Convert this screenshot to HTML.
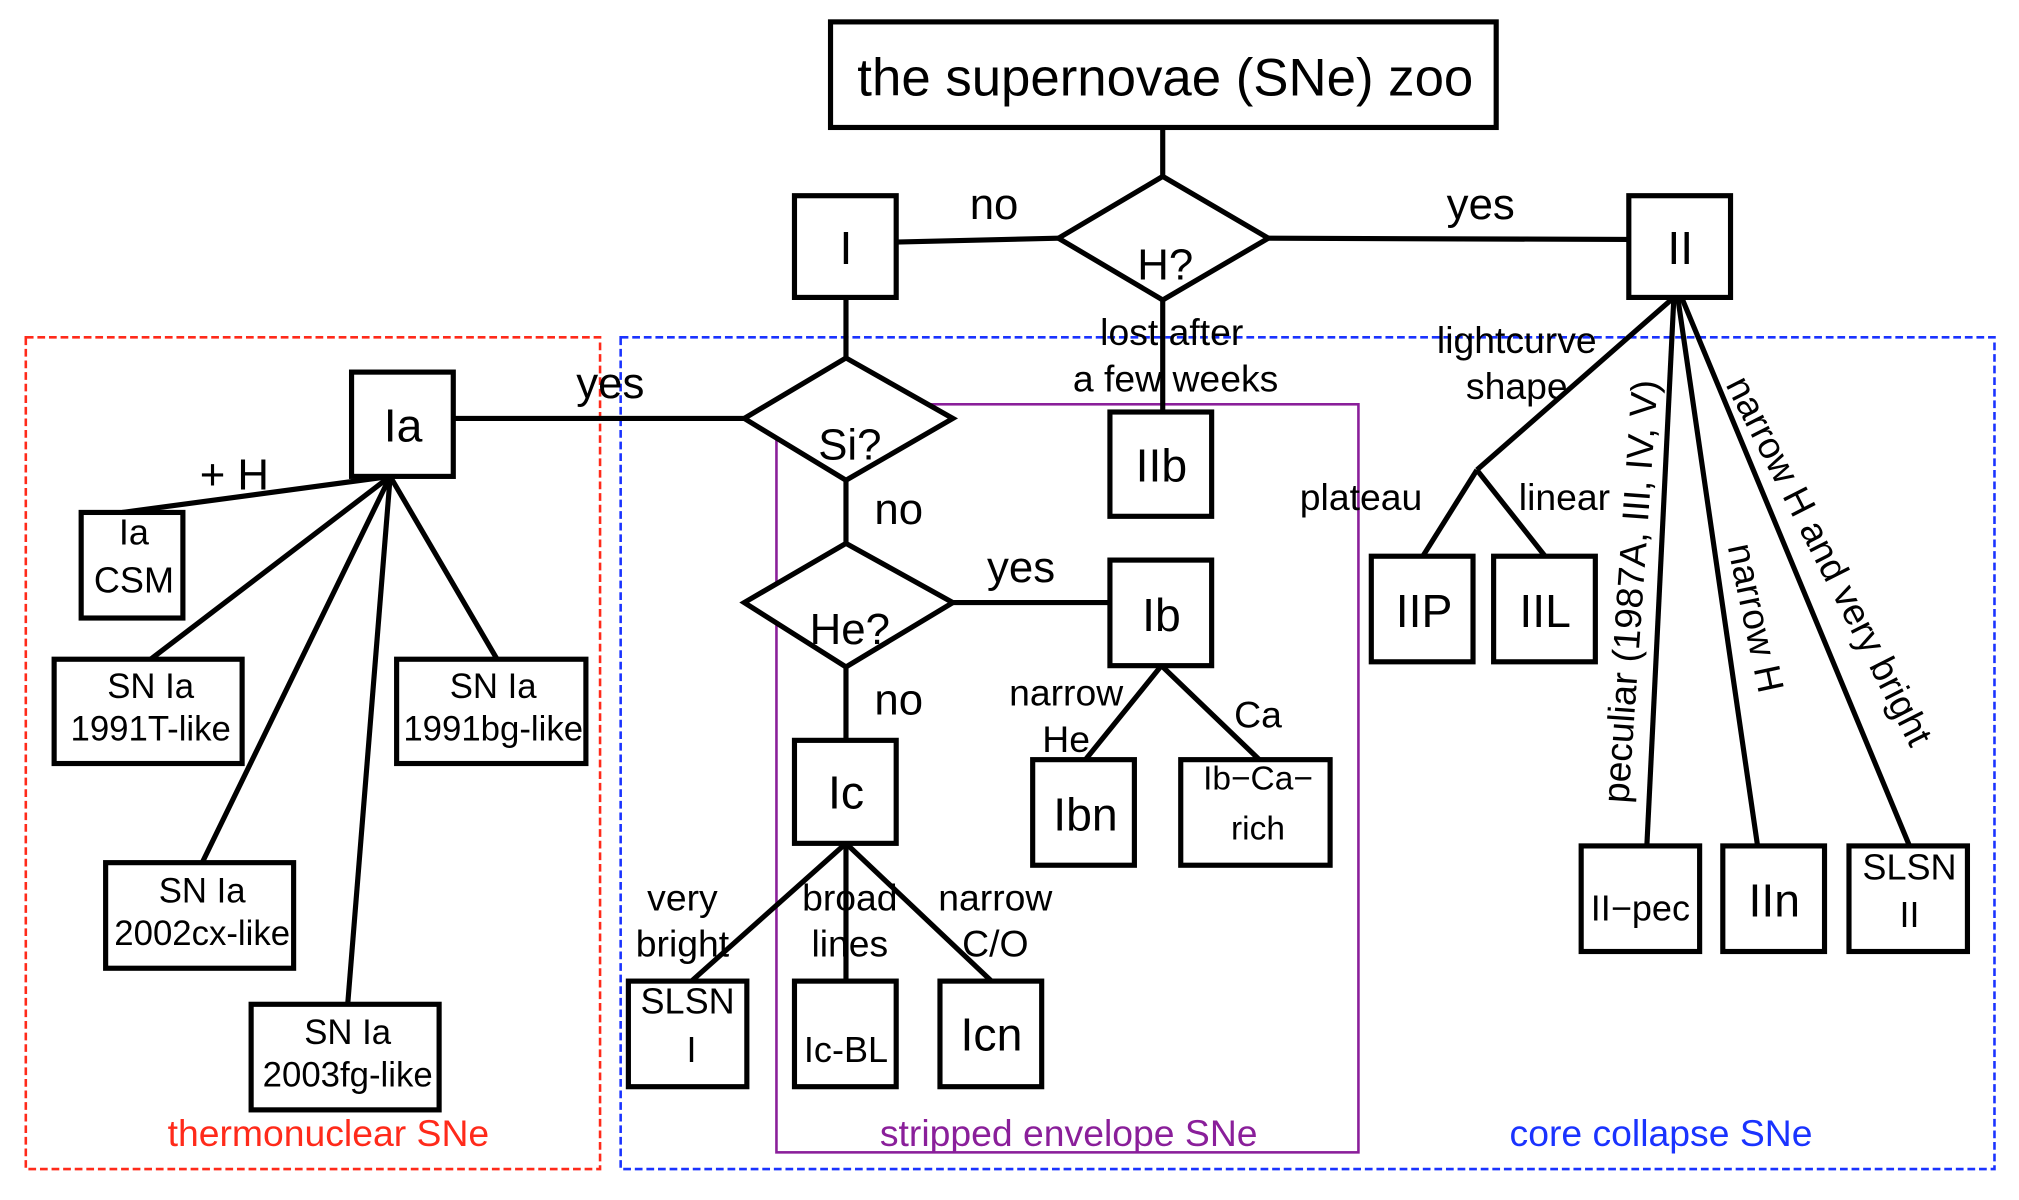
<!DOCTYPE html>
<html><head><meta charset="utf-8"><style>html,body{margin:0;padding:0;background:#fff}svg{display:block}</style></head>
<body>
<svg xmlns="http://www.w3.org/2000/svg" width="2019" height="1200" viewBox="0 0 1568 932" font-family="Liberation Sans, sans-serif">
<rect width="1568" height="932" fill="#fff"/>
<rect x="20" y="262" width="446" height="646" fill="none" stroke="#ff2a1a" stroke-width="2" stroke-dasharray="6,3"/>
<rect x="482" y="262" width="1067" height="646" fill="none" stroke="#1a33ff" stroke-width="2" stroke-dasharray="6,3"/>
<rect x="603" y="314" width="452" height="581" fill="none" stroke="#8a1f9a" stroke-width="2"/>
<g stroke="#000" stroke-width="4" fill="none">
<line x1="903" y1="99" x2="903" y2="137"/>
<line x1="696" y1="188" x2="822" y2="185"/>
<line x1="985" y1="185" x2="1265" y2="186"/>
<line x1="903" y1="233" x2="903" y2="320"/>
<line x1="657" y1="231" x2="657" y2="278"/>
<line x1="352" y1="325" x2="578" y2="325"/>
<line x1="657" y1="373" x2="657" y2="422"/>
<line x1="740" y1="468" x2="862" y2="468"/>
<line x1="657" y1="518" x2="657" y2="575"/>
<line x1="657" y1="655" x2="537" y2="762"/>
<line x1="657" y1="655" x2="657" y2="762"/>
<line x1="657" y1="655" x2="770" y2="762"/>
<line x1="902" y1="517" x2="843" y2="590"/>
<line x1="902" y1="517" x2="978" y2="590"/>
<line x1="1300" y1="231" x2="1147" y2="365"/>
<line x1="1147" y1="365" x2="1105" y2="432"/>
<line x1="1147" y1="365" x2="1200" y2="432"/>
<line x1="1300" y1="231" x2="1279" y2="657"/>
<line x1="1303" y1="231" x2="1365" y2="657"/>
<line x1="1306" y1="231" x2="1483" y2="657"/>
<line x1="303" y1="370" x2="95" y2="398"/>
<line x1="303" y1="370" x2="117" y2="512"/>
<line x1="303" y1="370" x2="386" y2="512"/>
<line x1="303" y1="370" x2="157" y2="670"/>
<line x1="303" y1="370" x2="270" y2="780"/>
<rect x="645" y="17" width="517" height="82" fill="#fff"/>
<polygon points="903,137 985,185 903,233 822,185" fill="#fff"/>
<polygon points="657,278 740,325 657,373 578,325" fill="#fff"/>
<polygon points="657,422 740,468 657,518 578,468" fill="#fff"/>
<rect x="617" y="152" width="79" height="79" fill="#fff"/>
<rect x="1265" y="152" width="79" height="79" fill="#fff"/>
<rect x="862" y="320" width="79" height="81" fill="#fff"/>
<rect x="273" y="289" width="79" height="81" fill="#fff"/>
<rect x="862" y="435" width="79" height="82" fill="#fff"/>
<rect x="617" y="575" width="79" height="80" fill="#fff"/>
<rect x="488" y="762" width="92" height="82" fill="#fff"/>
<rect x="617" y="762" width="79" height="82" fill="#fff"/>
<rect x="730" y="762" width="79" height="82" fill="#fff"/>
<rect x="802" y="590" width="79" height="82" fill="#fff"/>
<rect x="917" y="590" width="116" height="82" fill="#fff"/>
<rect x="1065" y="432" width="79" height="82" fill="#fff"/>
<rect x="1160" y="432" width="79" height="82" fill="#fff"/>
<rect x="1228" y="657" width="92" height="82" fill="#fff"/>
<rect x="1338" y="657" width="79" height="82" fill="#fff"/>
<rect x="1436" y="657" width="92" height="82" fill="#fff"/>
<rect x="63" y="398" width="79" height="82" fill="#fff"/>
<rect x="42" y="512" width="146" height="81" fill="#fff"/>
<rect x="308" y="512" width="147" height="81" fill="#fff"/>
<rect x="82" y="670" width="146" height="82" fill="#fff"/>
<rect x="195" y="780" width="146" height="82" fill="#fff"/>
</g>
<g text-anchor="middle" fill="#000">
<text x="905" y="74" font-size="41">the supernovae (SNe) zoo</text>
<text x="905" y="217" font-size="34">H?</text>
<text x="660" y="357" font-size="34">Si?</text>
<text x="660" y="500" font-size="34">He?</text>
<text x="657" y="205" font-size="36">I</text>
<text x="1305" y="205" font-size="36">II</text>
<text x="902" y="374" font-size="36">IIb</text>
<text x="313" y="343" font-size="36">Ia</text>
<text x="902" y="490" font-size="36">Ib</text>
<text x="657" y="628" font-size="36">Ic</text>
<text x="534" y="787" font-size="28">SLSN</text><text x="537" y="825" font-size="28">I</text>
<text x="657" y="825" font-size="28">Ic-BL</text>
<text x="770" y="816" font-size="36">Icn</text>
<text x="843" y="645" font-size="36">Ibn</text>
<text x="977" y="613" font-size="26">Ib−Ca−</text><text x="977" y="652" font-size="26">rich</text>
<text x="1106" y="487" font-size="36">IIP</text>
<text x="1200" y="487" font-size="36">IIL</text>
<text x="1274" y="715" font-size="28">II−pec</text>
<text x="1378" y="712" font-size="36">IIn</text>
<text x="1483" y="683" font-size="28">SLSN</text><text x="1483" y="720" font-size="28">II</text>
<text x="104" y="423" font-size="28">Ia</text><text x="104" y="460" font-size="28">CSM</text>
<text x="117" y="542" font-size="27">SN Ia</text><text x="117" y="575" font-size="27">1991T-like</text>
<text x="383" y="542" font-size="27">SN Ia</text><text x="383" y="575" font-size="27">1991bg-like</text>
<text x="157" y="701" font-size="27">SN Ia</text><text x="157" y="734" font-size="27">2002cx-like</text>
<text x="270" y="811" font-size="27">SN Ia</text><text x="270" y="844" font-size="27">2003fg-like</text>
<text x="772" y="170" font-size="34">no</text>
<text x="1150" y="170" font-size="34">yes</text>
<text x="474" y="309" font-size="34">yes</text>
<text x="698" y="407" font-size="34">no</text>
<text x="793" y="452" font-size="34">yes</text>
<text x="698" y="555" font-size="34">no</text>
<text x="910" y="268" font-size="29">lost after</text>
<text x="913" y="304" font-size="29">a few weeks</text>
<text x="530" y="707" font-size="29">very</text><text x="530" y="743" font-size="29">bright</text>
<text x="660" y="707" font-size="29">broad</text><text x="660" y="743" font-size="29">lines</text>
<text x="773" y="707" font-size="29">narrow</text><text x="773" y="743" font-size="29">C/O</text>
<text x="828" y="548" font-size="29">narrow</text><text x="828" y="584" font-size="29">He</text>
<text x="977" y="565" font-size="29">Ca</text>
<text x="1178" y="274" font-size="29">lightcurve</text><text x="1178" y="310" font-size="29">shape</text>
<text x="1057" y="396" font-size="29">plateau</text>
<text x="1215" y="396" font-size="29">linear</text>
<text x="182" y="380" font-size="34">+ H</text>
<text transform="translate(1276,460) rotate(-86)" font-size="29">peculiar (1987A, III, IV, V)</text>
<text transform="translate(1354,482) rotate(78)" font-size="29">narrow H</text>
<text transform="translate(1412,440) rotate(63)" font-size="29">narrow H and very bright</text>
<text x="255" y="890" font-size="29" fill="#ff2a1a">thermonuclear SNe</text>
<text x="830" y="890" font-size="29" fill="#8a1f9a">stripped envelope SNe</text>
<text x="1290" y="890" font-size="29" fill="#1a33ff">core collapse SNe</text>
</g>
</svg>
</body></html>
